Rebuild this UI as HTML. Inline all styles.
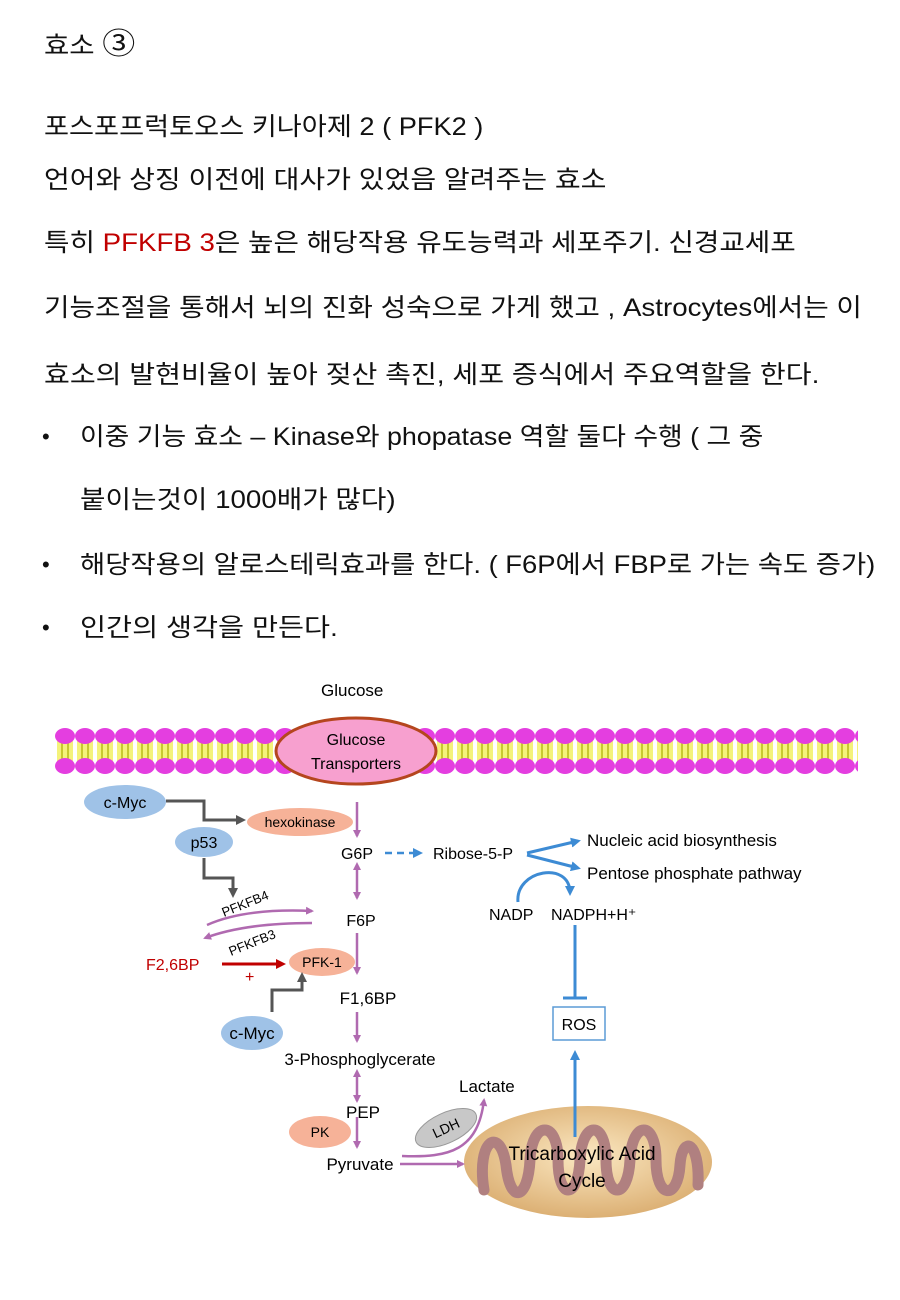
<!DOCTYPE html>
<html><head><meta charset="utf-8"><style>
body{margin:0;background:#fff;}
#p{position:relative;width:900px;height:1300px;overflow:hidden;font-family:"Liberation Sans","Noto Sans CJK KR",sans-serif;color:#111;}
.t{position:absolute;left:44px;font-size:25px;white-space:nowrap;line-height:30px;transform-origin:0 50%;}
.b{left:80px}
.d{position:absolute;left:42px;font-size:22px;line-height:30px}
svg{position:absolute;left:0;top:0}
svg text{font-family:"Liberation Sans",sans-serif;}
</style></head><body><div id="p">
<div class="t" style="top:30px;transform:scaleX(1.1)">효소 <span style="font-size:30px">③</span></div>
<div class="t" style="top:112px;transform:scaleX(1.088)">포스포프럭토오스 키나아제 2 ( PFK2 )</div>
<div class="t" style="top:165px;transform:scaleX(1.121)">언어와 상징 이전에 대사가 있었음 알려주는 효소</div>
<div class="t" style="top:228px;transform:scaleX(1.107)">특히 <span style="color:#c00000">PFKFB 3</span>은 높은 해당작용 유도능력과 세포주기. 신경교세포</div>
<div class="t" style="top:293px;transform:scaleX(1.108)">기능조절을 통해서 뇌의 진화 성숙으로 가게 했고 , Astrocytes에서는 이</div>
<div class="t" style="top:360px;transform:scaleX(1.123)">효소의 발현비율이 높아 젖산 촉진, 세포 증식에서 주요역할을 한다.</div>
<div class="d" style="top:422px">•</div><div class="t b" style="top:422px;transform:scaleX(1.073)">이중 기능 효소 – Kinase와 phopatase 역할 둘다 수행 ( 그 중</div>
<div class="t b" style="top:485px;transform:scaleX(1.108)">붙이는것이 1000배가 많다)</div>
<div class="d" style="top:550px">•</div><div class="t b" style="top:550px;transform:scaleX(1.096)">해당작용의 알로스테릭효과를 한다. ( F6P에서 FBP로 가는 속도 증가)</div>
<div class="d" style="top:613px">•</div><div class="t b" style="top:613px;transform:scaleX(1.132)">인간의 생각을 만든다.</div>
<svg width="900" height="1300" viewBox="0 0 900 1300">
<defs>
<pattern id="mem" x="55" y="728" width="20" height="46" patternUnits="userSpaceOnUse">
<rect x="2" y="12" width="16" height="22" fill="#f4f27a"/>
<line x1="7" y1="12" x2="7" y2="34" stroke="#c8c830" stroke-width="2"/>
<line x1="13" y1="12" x2="13" y2="34" stroke="#c8c830" stroke-width="2"/>
<ellipse cx="10" cy="8" rx="10" ry="8" fill="#e43ee0"/>
<ellipse cx="10" cy="38" rx="10" ry="8" fill="#e43ee0"/>
</pattern>
<marker id="ap" markerWidth="8" markerHeight="8" refX="6" refY="4" orient="auto" markerUnits="userSpaceOnUse"><path d="M0,0 L8,4 L0,8z" fill="#b06ab0"/></marker>
<marker id="aps" markerWidth="8" markerHeight="8" refX="2" refY="4" orient="auto-start-reverse" markerUnits="userSpaceOnUse"><path d="M0,0 L8,4 L0,8z" fill="#b06ab0"/></marker>
<marker id="ag" markerWidth="10" markerHeight="10" refX="7" refY="5" orient="auto" markerUnits="userSpaceOnUse"><path d="M0,0 L10,5 L0,10z" fill="#555"/></marker>
<marker id="ab" markerWidth="10" markerHeight="10" refX="7" refY="5" orient="auto" markerUnits="userSpaceOnUse"><path d="M0,0 L10,5 L0,10z" fill="#3d8bd4"/></marker>
<marker id="ar" markerWidth="10" markerHeight="10" refX="7" refY="5" orient="auto" markerUnits="userSpaceOnUse"><path d="M0,0 L10,5 L0,10z" fill="#c00000"/></marker>
<radialGradient id="mit" cx="0.5" cy="0.45" r="0.55"><stop offset="0" stop-color="#fbe8c2"/><stop offset="1" stop-color="#dcb074"/></radialGradient>
</defs>
<text x="321" y="696" font-size="17">Glucose</text>
<rect x="55" y="728" width="803" height="46" fill="url(#mem)"/>
<ellipse cx="356" cy="751" rx="80" ry="33" fill="#f7a0cf" stroke="#b5461e" stroke-width="3"/>
<text x="356" y="745" font-size="16" text-anchor="middle">Glucose</text>
<text x="356" y="769" font-size="16" text-anchor="middle">Transporters</text>
<ellipse cx="125" cy="802" rx="41" ry="17" fill="#9fc2e7"/><text x="125" y="808" font-size="16" text-anchor="middle">c-Myc</text>
<ellipse cx="300" cy="822" rx="53" ry="14" fill="#f6b298"/><text x="300" y="827" font-size="14" text-anchor="middle">hexokinase</text>
<ellipse cx="204" cy="842" rx="29" ry="15" fill="#9fc2e7"/><text x="204" y="848" font-size="16" text-anchor="middle">p53</text>
<path d="M166,801 H204 V820 H243" fill="none" stroke="#555" stroke-width="3" marker-end="url(#ag)"/>
<path d="M204,858 V878 H233 V895" fill="none" stroke="#555" stroke-width="3" marker-end="url(#ag)"/>
<line x1="357" y1="802" x2="357" y2="836" stroke="#b06ab0" stroke-width="2.5" marker-end="url(#ap)"/>
<text x="357" y="859" font-size="16" text-anchor="middle">G6P</text>
<line x1="385" y1="853" x2="420" y2="853" stroke="#3d8bd4" stroke-width="2.5" stroke-dasharray="7,5" marker-end="url(#ab)"/>
<text x="433" y="859" font-size="16">Ribose-5-P</text>
<line x1="357" y1="868" x2="357" y2="898" stroke="#b06ab0" stroke-width="2.5" marker-start="url(#aps)" marker-end="url(#ap)"/>
<text x="361" y="926" font-size="16" text-anchor="middle">F6P</text>
<text x="224" y="917" font-size="13" transform="rotate(-22 224 917)">PFKFB4</text>
<path d="M207,925 Q245,908 312,911" fill="none" stroke="#b06ab0" stroke-width="2.5" marker-end="url(#ap)"/>
<path d="M312,923 Q245,923 205,938" fill="none" stroke="#b06ab0" stroke-width="2.5" marker-end="url(#ap)"/>
<text x="231" y="956" font-size="13" transform="rotate(-22 231 956)">PFKFB3</text>
<text x="146" y="970" font-size="16" fill="#c00000">F2,6BP</text>
<line x1="222" y1="964" x2="283" y2="964" stroke="#c00000" stroke-width="3" marker-end="url(#ar)"/>
<text x="245" y="982" font-size="16" fill="#c00000">+</text>
<ellipse cx="322" cy="962" rx="33" ry="14" fill="#f6b298"/><text x="322" y="967" font-size="14" text-anchor="middle">PFK-1</text>
<line x1="357" y1="933" x2="357" y2="973" stroke="#b06ab0" stroke-width="2.5" marker-end="url(#ap)"/>
<path d="M272,1012 V990 H302 V975" fill="none" stroke="#555" stroke-width="3" marker-end="url(#ag)"/>
<text x="368" y="1004" font-size="17" text-anchor="middle">F1,6BP</text>
<line x1="357" y1="1012" x2="357" y2="1041" stroke="#b06ab0" stroke-width="2.5" marker-end="url(#ap)"/>
<ellipse cx="252" cy="1033" rx="31" ry="17" fill="#9fc2e7"/><text x="252" y="1039" font-size="17" text-anchor="middle">c-Myc</text>
<text x="360" y="1065" font-size="17" text-anchor="middle">3-Phosphoglycerate</text>
<line x1="357" y1="1075" x2="357" y2="1101" stroke="#b06ab0" stroke-width="2.5" marker-start="url(#aps)" marker-end="url(#ap)"/>
<text x="363" y="1118" font-size="17" text-anchor="middle">PEP</text>
<line x1="357" y1="1117" x2="357" y2="1147" stroke="#b06ab0" stroke-width="2.5" marker-end="url(#ap)"/>
<ellipse cx="320" cy="1132" rx="31" ry="16" fill="#f6b298"/><text x="320" y="1137" font-size="14" text-anchor="middle">PK</text>
<text x="360" y="1170" font-size="17" text-anchor="middle">Pyruvate</text>
<ellipse cx="588" cy="1162" rx="124" ry="56" fill="url(#mit)"/>
<path d="M484,1190 C476,1140 500,1125 506,1165 C510,1205 528,1200 530,1160 C532,1120 558,1120 558,1160 C558,1200 578,1200 580,1160 C582,1120 606,1120 606,1160 C606,1200 628,1200 630,1160 C632,1120 656,1120 656,1160 C656,1200 678,1200 680,1165 C682,1135 700,1140 698,1185" fill="none" stroke="#b08080" stroke-width="11" stroke-linecap="round"/>
<text x="582" y="1160" font-size="19" text-anchor="middle">Tricarboxylic Acid</text>
<text x="582" y="1187" font-size="19" text-anchor="middle">Cycle</text>
<ellipse cx="446" cy="1128" rx="33" ry="15" fill="#c8c8c8" stroke="#999" transform="rotate(-25 446 1128)"/><text x="446" y="1133" font-size="14" text-anchor="middle" transform="rotate(-25 446 1128)">LDH</text>
<path d="M402,1156 C450,1158 478,1150 484,1100" fill="none" stroke="#b06ab0" stroke-width="2.5" marker-end="url(#ap)"/>
<line x1="400" y1="1164" x2="463" y2="1164" stroke="#b06ab0" stroke-width="2.5" marker-end="url(#ap)"/>
<text x="459" y="1092" font-size="17">Lactate</text>
<line x1="575" y1="1137" x2="575" y2="1053" stroke="#3d8bd4" stroke-width="3" marker-end="url(#ab)"/>
<rect x="553" y="1007" width="52" height="33" fill="#fff" stroke="#5b9bd5" stroke-width="1.5"/>
<text x="579" y="1030" font-size="16" text-anchor="middle">ROS</text>
<line x1="575" y1="925" x2="575" y2="998" stroke="#3d8bd4" stroke-width="3"/>
<line x1="563" y1="998" x2="587" y2="998" stroke="#3d8bd4" stroke-width="3"/>
<text x="489" y="920" font-size="16">NADP</text>
<text x="551" y="920" font-size="16">NADPH+H⁺</text>
<path d="M518,902 C515,870 570,860 570,893" fill="none" stroke="#3d8bd4" stroke-width="3" marker-end="url(#ab)"/>
<line x1="527" y1="853" x2="578" y2="841" stroke="#3d8bd4" stroke-width="3" marker-end="url(#ab)"/>
<line x1="527" y1="855" x2="578" y2="868" stroke="#3d8bd4" stroke-width="3" marker-end="url(#ab)"/>
<text x="587" y="846" font-size="17">Nucleic acid biosynthesis</text>
<text x="587" y="879" font-size="17">Pentose phosphate pathway</text>
</svg>
</div></body></html>
